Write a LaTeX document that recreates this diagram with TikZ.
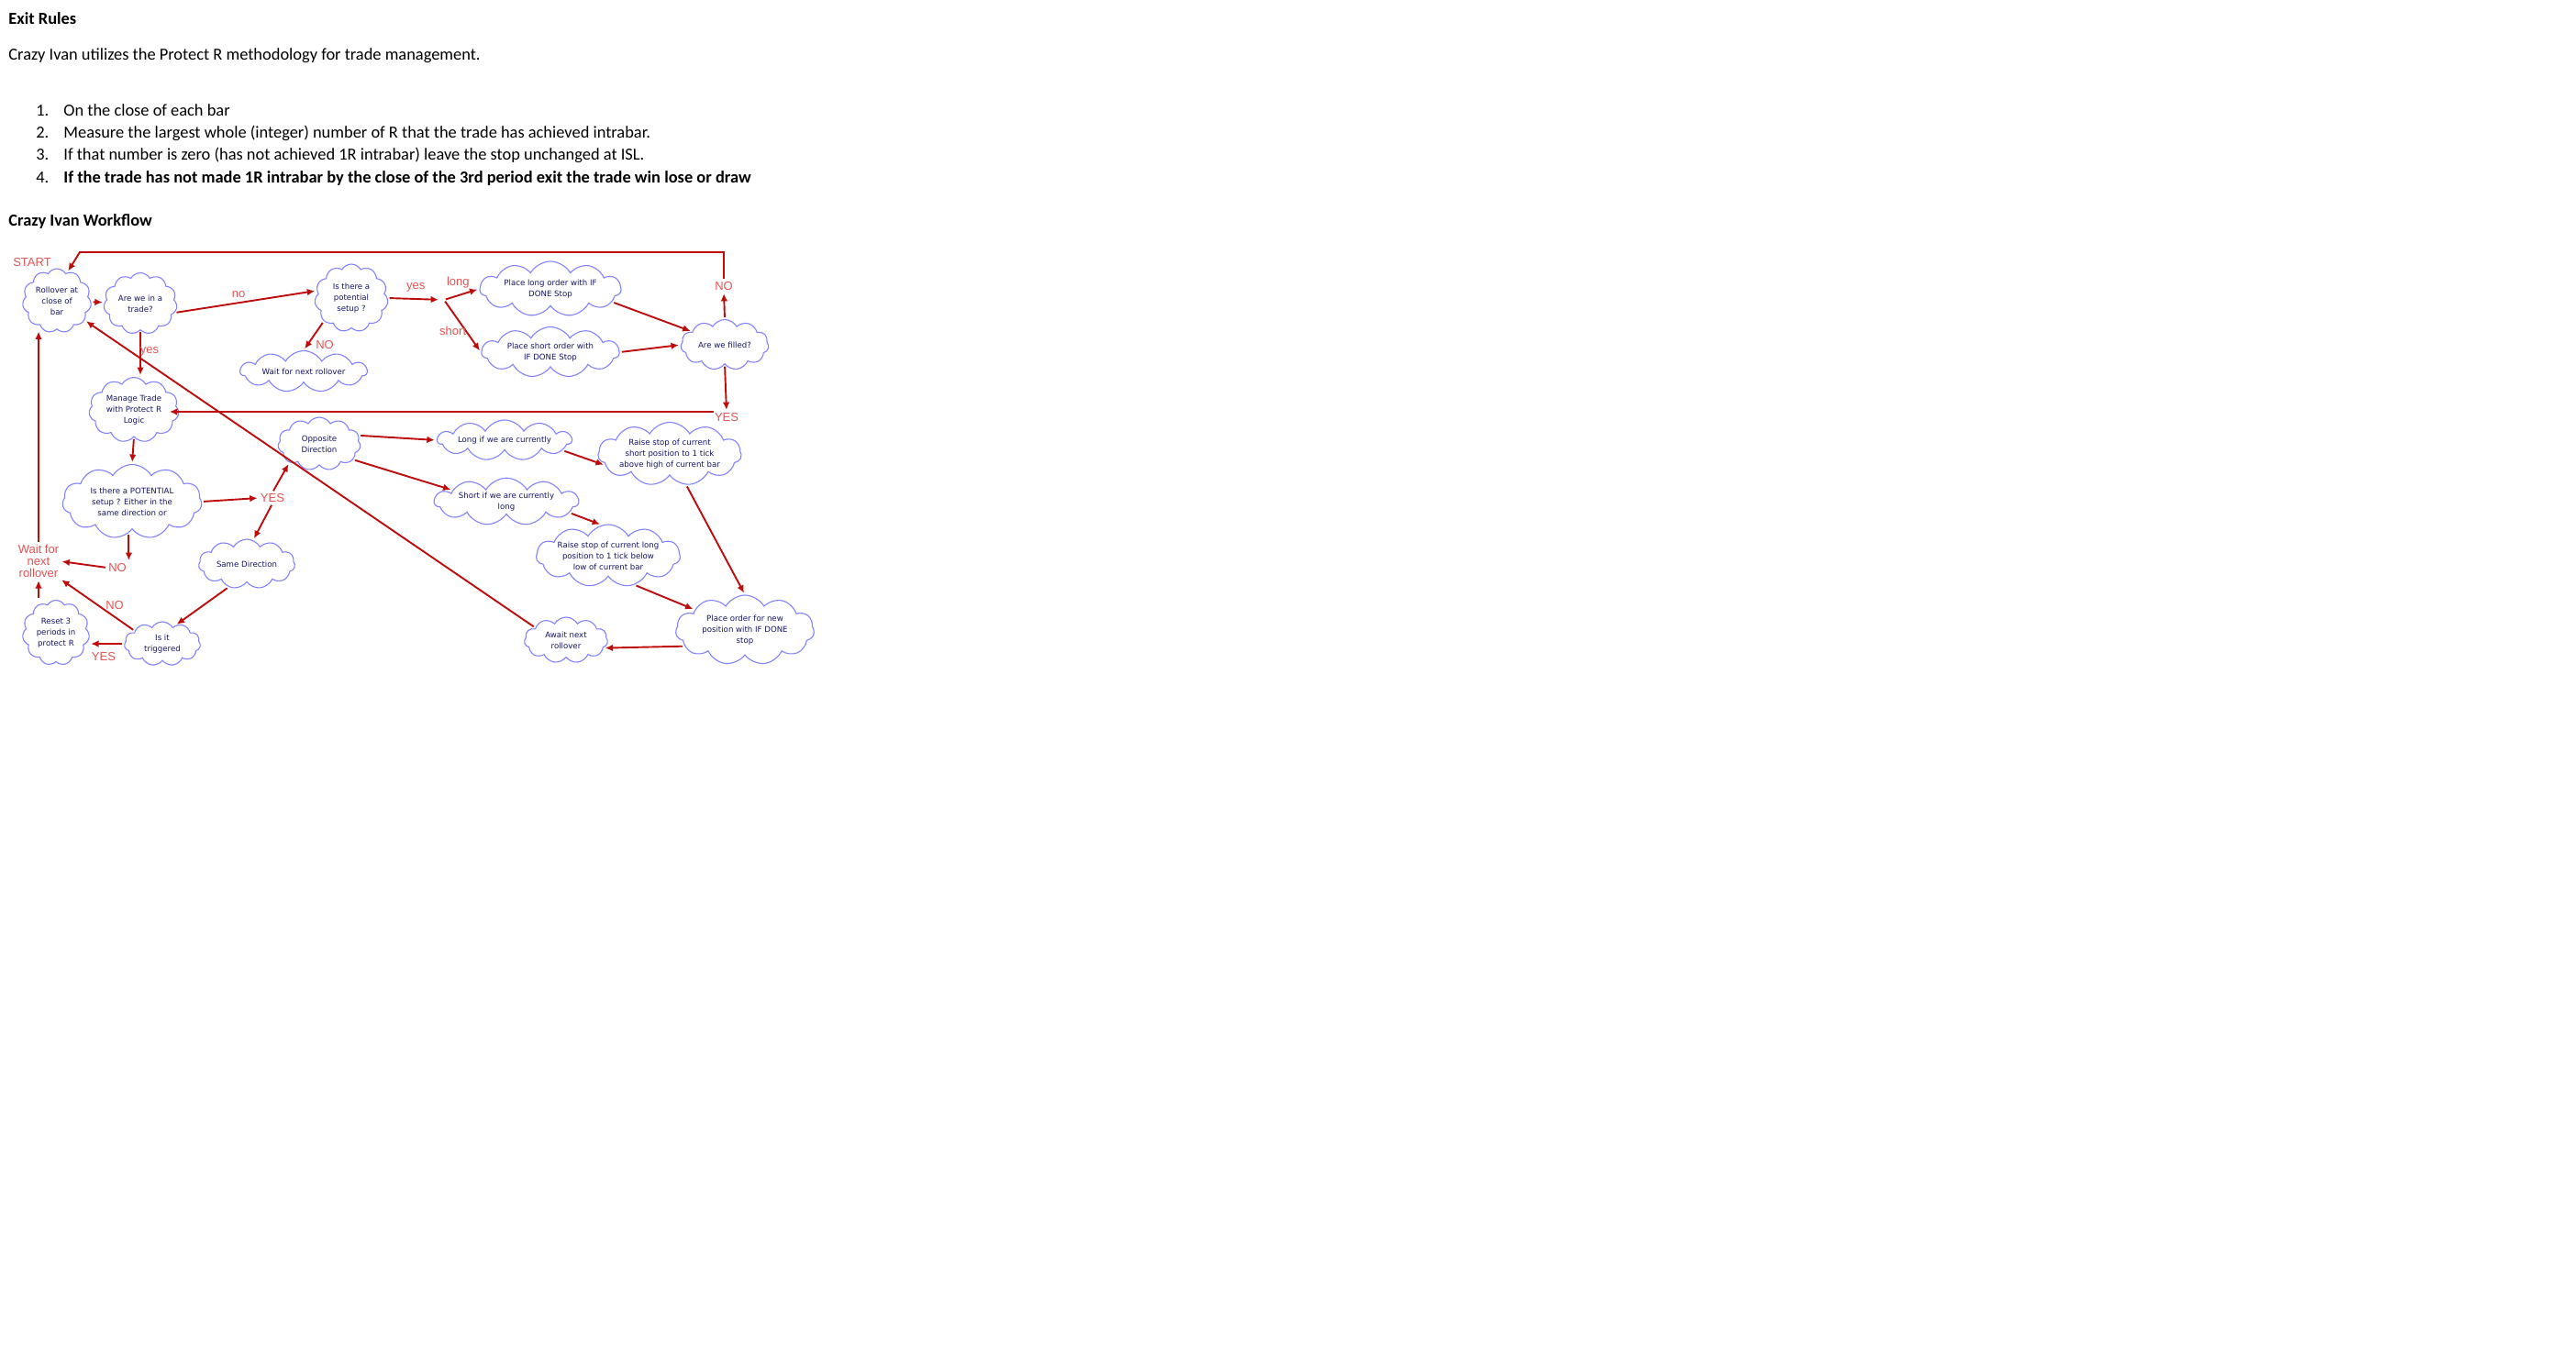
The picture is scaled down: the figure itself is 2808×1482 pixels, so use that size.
\documentclass[tikz,border=0pt]{standalone}
\usepackage{fontspec}
\setmainfont{Carlito}
\newfontfamily\lblfont{Liberation Sans}
\newfontfamily\cloudfont{DejaVu Sans}
\usetikzlibrary{shapes.symbols,arrows.meta}
\definecolor{arrowred}{RGB}{190,12,12}
\definecolor{lblred}{RGB}{228,82,82}
\definecolor{cloudblue}{RGB}{130,130,255}
\definecolor{cloudtext}{RGB}{20,20,105}

\begin{document}
\begin{tikzpicture}[x=0.5pt,y=-0.5pt,
  body/.style={anchor=base west,inner sep=0pt,font=\fontsize{9.2}{12}\selectfont},
  cloudbox/.style={cloud,cloud puffs=11,cloud puff arc=120,cloud ignores aspect,
    draw=cloudblue,line width=0.55pt,fill=white,text=cloudtext,align=center,inner sep=0pt,
    font=\cloudfont\fontsize{4.3}{6}\selectfont},
  lbl/.style={text=lblred,inner sep=0.5pt,align=center,font=\lblfont\fontsize{6.5}{6.5}\selectfont},
  flow/.style={draw=arrowred,line width=0.95pt,-{Latex[length=4.2pt,width=3.8pt]},shorten >=1pt,shorten <=1pt}]
\useasboundingbox (0,0) rectangle (2808,1482);
\node[body,font=\bfseries\fontsize{9.2}{12}\selectfont] (title) at (9,27) {Exit Rules};
\node[body] (intro) at (9,66) {Crazy Ivan utilizes the Protect R methodology for trade management.};
\node[body] (n1) at (39,127) {1.};
\node[body] (r1) at (69,127) {On the close of each bar};
\node[body] (n2) at (39,151) {2.};
\node[body] (r2) at (69,151) {Measure the largest whole (integer) number of R that the trade has achieved intrabar.};
\node[body] (n3) at (39,175) {3.};
\node[body] (r3) at (69,175) {If that number is zero (has not achieved 1R intrabar) leave the stop unchanged at ISL.};
\node[body] (n4) at (39,199) {4.};
\node[body,font=\bfseries\fontsize{9.2}{12}\selectfont] (r4) at (69,199) {If the trade has not made 1R intrabar by the close of the 3rd period exit the trade win lose or draw};
\node[body,font=\bfseries\fontsize{9.2}{12}\selectfont] (wf) at (9,247) {Crazy Ivan Workflow};

\node[cloudbox,minimum width=37.5pt,minimum height=35pt] (roll) at (62,328) {Rollover at\\close of\\bar};
\node[cloudbox,minimum width=40pt,minimum height=33.5pt] (intrade) at (153,331) {Are we in a\\trade?};
\node[cloudbox,minimum width=40pt,minimum height=37pt] (setup) at (383,325) {Is there a\\potential\\setup ?};
\node[cloudbox,minimum width=69pt,minimum height=22.5pt] (waitroll) at (331,405) {Wait for next rollover};
\node[cloudbox,minimum width=49pt,minimum height=35.5pt] (manage) at (146,447) {Manage Trade\\with Protect R\\Logic};
\node[cloudbox,minimum width=76pt,minimum height=40.5pt] (potential) at (144,547) {Is there a POTENTIAL\\setup ? Either in the\\same direction or};
\node[cloudbox,minimum width=45pt,minimum height=29pt] (opposite) at (348,484) {Opposite\\Direction};
\node[cloudbox,minimum width=52.5pt,minimum height=27pt] (same) at (269,615) {Same Direction};
\node[cloudbox,minimum width=41.5pt,minimum height=24pt] (trig) at (177,702) {Is it\\triggered};
\node[cloudbox,minimum width=36.5pt,minimum height=35.5pt] (reset) at (61,690) {Reset 3\\periods in\\protect R};
\node[cloudbox,minimum width=77pt,minimum height=30pt] (longord) at (600,315) {Place long order with IF\\DONE Stop};
\node[cloudbox,minimum width=75pt,minimum height=27.5pt] (shortord) at (600,384) {Place short order with\\IF DONE Stop};
\node[cloudbox,minimum width=48pt,minimum height=27.5pt] (filled) at (790,376) {Are we filled?};
\node[cloudbox,minimum width=73pt,minimum height=22pt] (longif) at (550,480) {Long if we are currently};
\node[cloudbox,minimum width=78.5pt,minimum height=24.5pt] (shortif) at (552,547) {Short if we are currently\\long};
\node[cloudbox,minimum width=78pt,minimum height=34.5pt] (raiseshort) at (730,495) {Raise stop of current\\short position to 1 tick\\above high of current bar};
\node[cloudbox,minimum width=78.5pt,minimum height=34pt] (raiselong) at (663,606) {Raise stop of current long\\position to 1 tick below\\low of current bar};
\node[cloudbox,minimum width=75.5pt,minimum height=38pt] (placenew) at (812,687) {Place order for new\\position with IF DONE\\stop};
\node[cloudbox,minimum width=45.5pt,minimum height=25pt] (await) at (617,698) {Await next\\rollover};

\node[lbl] (start) at (35,286) {START};
\node[lbl] (noset) at (354,376) {NO};
\node[lbl] (nofill) at (789,312) {NO};
\node[lbl] (yesfill) at (792,455) {YES};
\node[lbl] (yespot) at (297,543) {YES};
\node[lbl] (nopot) at (128,619) {NO};
\node[lbl] (waitlbl) at (42,612) {Wait for\\next\\rollover};
\node[lbl] (notrig) at (125,660) {NO};
\node[lbl] (yestrig) at (113,716) {YES};
\coordinate (fork) at (484,327);
\coordinate (topcorner) at (87,275);

\draw[flow] (roll) -- (intrade);
\draw[flow] (intrade.-15) -- node[lbl,above=2pt,pos=0.45] (nolbl) {no} (setup.168);
\draw[flow] (setup.-140) -- (waitroll.north);
\draw[flow] (intrade.south) -- node[lbl,right=-1pt,pos=0.45] (yeslbl) {yes} (intrade.south |- manage.north);
\draw[flow,shorten >=3pt] (setup.east) -- node[lbl,above=3pt] (yeslbl2) {yes} (fork);
\draw[flow] (fork) -- node[lbl,above=3pt,pos=0.4] (longlbl) {long} (longord.west);
\draw[flow] (fork) -- node[lbl,left=-1pt,pos=0.6] (shortlbl) {short} (shortord.west);
\draw[flow] (longord.-12) -- (filled.158);
\draw[flow] (shortord.east) -- (filled.west);
\draw[flow] (filled.north) -- (nofill.south);
\draw[flow] (nofill.north) |- (topcorner) -- (roll.70);
\draw[flow] (filled.south) -- (yesfill.north);
\draw[flow] ([xshift=-6pt]yesfill.north) -- ([xshift=-6pt]yesfill.north -| manage.east);
\draw[flow] (manage.south) -- (potential.north);
\draw[flow] (potential.east) -- (yespot.west);
\draw[flow] (yespot.north) -- (opposite.-148);
\draw[flow] (yespot.south) -- (same.75);
\draw[flow] (opposite.12) -- (longif.west);
\draw[flow] (opposite.-25) -- (shortif.168);
\draw[flow] (longif.-10) -- (raiseshort.-170);
\draw[flow] (shortif.-10) -- (raiselong.102);
\draw[flow] (raiseshort.-62) -- (placenew.north);
\draw[flow] (raiselong.-48) -- (placenew.158);
\draw[flow] (placenew.-165) -- (await.-12);
\draw[flow] (await.158) -- (roll.-35);
\draw[flow] (potential.-96) -- (potential.-96 |- nopot.north);
\draw[flow] (nopot.west) -- (waitlbl.east);
\draw[flow] (same.-128) -- (trig.55);
\draw[flow] (trig.155) -- (waitlbl.south east);
\draw[flow] (trig.west) -- (trig.west -| reset.east);
\draw[flow] (waitlbl.south |- reset.north) -- (waitlbl.south);
\draw[flow] (waitlbl.north) -- (waitlbl.north |- roll.south);
\end{tikzpicture}
\end{document}
